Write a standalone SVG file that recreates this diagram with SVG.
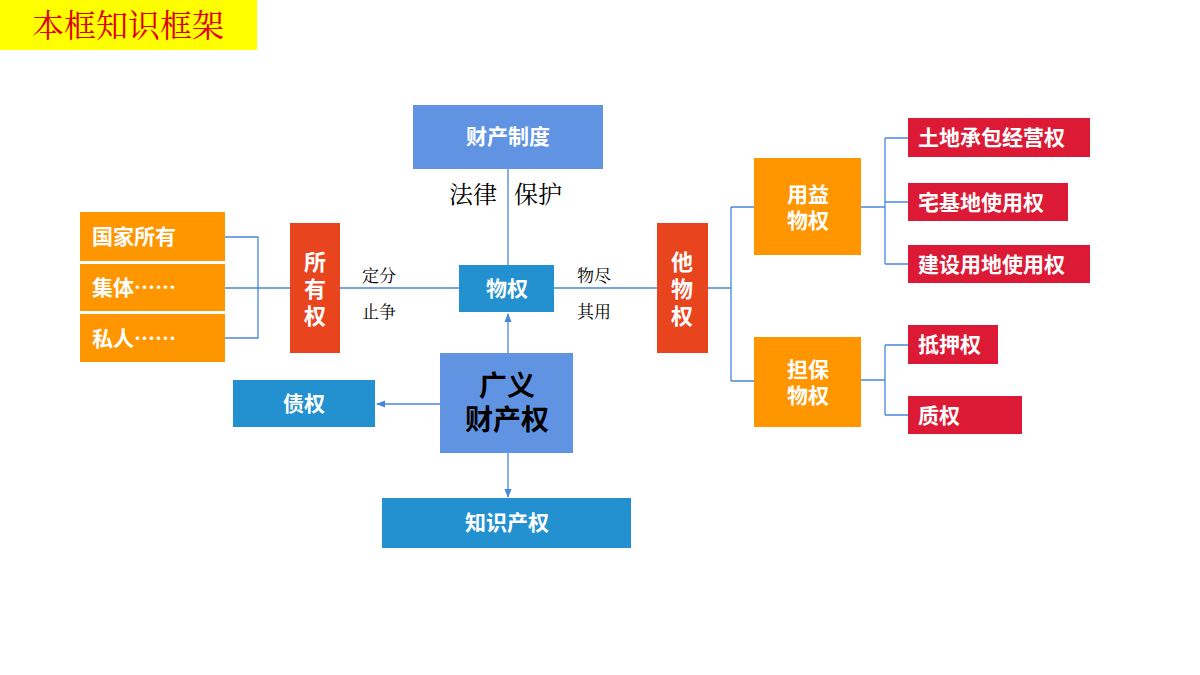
<svg xmlns="http://www.w3.org/2000/svg" width="1200" height="675" viewBox="0 0 1200 675">
<style>
.t{font-family:"Noto Sans CJK SC",sans-serif;font-weight:bold;fill:#fff;font-size:21px}
.v{font-size:22px;text-anchor:middle}
.s{font-family:"Noto Serif CJK SC","Noto Sans CJK SC",serif;fill:#000}
.c{fill:none;stroke:#4A86E0;stroke-width:1.3}
</style>
<defs><marker id="a" viewBox="0 0 10 10" refX="9" refY="5" markerWidth="7" markerHeight="7" orient="auto"><path d="M0,1L10,5L0,9z" fill="#4A86E0"/></marker></defs>
<rect width="1200" height="675" fill="#fff"/>
<g id="title"><rect x="0" y="0" width="257" height="50" fill="#FFFF00"/><text x="128" y="37" text-anchor="middle" class="s" style="fill:#E00000;font-size:32px">本框知识框架</text></g>
<g id="connectors">
<path class="c" d="M508,169V265M340,288H459M554,288H657M225,237H258V338H225M225,288H290M708,288H731M731,207V381M731,207H754M731,381H754M861,207H885M885,138V264M885,138H908M885,202H908M885,264H908M861,380H885M885,345V415M885,345H908M885,415H908"/>
<path class="c" d="M508,353V314" marker-end="url(#a)"/>
<path class="c" d="M440,404H377" marker-end="url(#a)"/>
<path class="c" d="M508,453V497" marker-end="url(#a)"/>
</g>
<g id="labels">
<text x="449" y="203" class="s" style="font-size:24px">法律</text><text x="514" y="203" class="s" style="font-size:24px">保护</text>
<text x="362" y="282" class="s" style="font-size:17px">定分</text><text x="362" y="318" class="s" style="font-size:17px">止争</text>
<text x="577" y="282" class="s" style="font-size:17px">物尽</text><text x="577" y="318" class="s" style="font-size:17px">其用</text>
</g>
<g id="n1"><rect x="413" y="105" width="190" height="64" fill="#6094E2"/><text x="508" y="144" text-anchor="middle" class="t">财产制度</text></g>
<g id="n2"><rect x="459" y="265" width="95" height="47" fill="#2391D0"/><text x="507" y="296" text-anchor="middle" class="t">物权</text></g>
<g id="n3"><rect x="290" y="223" width="50" height="130" fill="#E8441E"/><text x="315" y="270" class="t v">所</text><text x="315" y="297" class="t v">有</text><text x="315" y="324" class="t v">权</text></g>
<g id="n4"><rect x="80" y="212" width="145" height="49" fill="#FF9600"/><text x="92" y="244" class="t">国家所有</text></g>
<g id="n5"><rect x="80" y="264" width="145" height="47" fill="#FF9600"/><text x="92" y="295" class="t">集体……</text></g>
<g id="n6"><rect x="80" y="314" width="145" height="48" fill="#FF9600"/><text x="92" y="346" class="t">私人……</text></g>
<g id="n7"><rect x="657" y="223" width="51" height="130" fill="#E8441E"/><text x="682" y="270" class="t v">他</text><text x="682" y="297" class="t v">物</text><text x="682" y="324" class="t v">权</text></g>
<g id="n8"><rect x="754" y="158" width="107" height="97" fill="#FF9600"/><text x="808" y="202" text-anchor="middle" class="t">用益</text><text x="808" y="228" text-anchor="middle" class="t">物权</text></g>
<g id="n9"><rect x="754" y="337" width="107" height="90" fill="#FF9600"/><text x="808" y="377" text-anchor="middle" class="t">担保</text><text x="808" y="403" text-anchor="middle" class="t">物权</text></g>
<g id="n10"><rect x="908" y="118" width="182" height="39" fill="#DC1A35"/><text x="918" y="145" class="t">土地承包经营权</text></g>
<g id="n11"><rect x="908" y="183" width="160" height="38" fill="#DC1A35"/><text x="918" y="210" class="t">宅基地使用权</text></g>
<g id="n12"><rect x="908" y="245" width="182" height="38" fill="#DC1A35"/><text x="918" y="272" class="t">建设用地使用权</text></g>
<g id="n13"><rect x="908" y="325" width="90" height="39" fill="#DC1A35"/><text x="918" y="352" class="t">抵押权</text></g>
<g id="n14"><rect x="908" y="396" width="114" height="38" fill="#DC1A35"/><text x="918" y="423" class="t">质权</text></g>
<g id="n15"><rect x="440" y="353" width="133" height="100" fill="#6094E2"/><text x="507" y="396" text-anchor="middle" class="t" style="fill:#000;font-size:28px">广义</text><text x="507" y="430" text-anchor="middle" class="t" style="fill:#000;font-size:28px">财产权</text></g>
<g id="n16"><rect x="233" y="380" width="142" height="47" fill="#2391D0"/><text x="304" y="411" text-anchor="middle" class="t">债权</text></g>
<g id="n17"><rect x="382" y="498" width="249" height="50" fill="#2391D0"/><text x="507" y="530" text-anchor="middle" class="t">知识产权</text></g>
</svg>
